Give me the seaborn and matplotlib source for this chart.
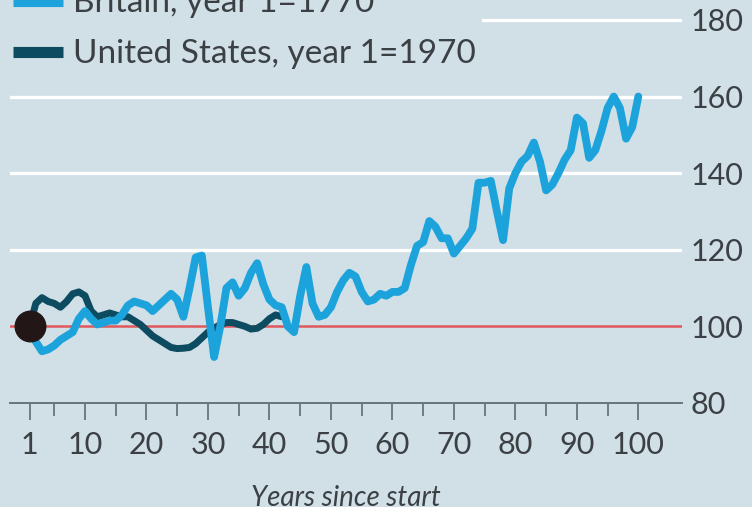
import matplotlib
matplotlib.use("Agg")
import matplotlib.pyplot as plt
import pandas as pd
import seaborn as sns

# -----------------------------
# Data
# -----------------------------
britain_years = list(range(1, 101))
britain_index = [
    100, 96, 93.5, 94, 95, 96.5, 97.5, 98.5, 102, 104,
    102, 100.5, 101, 101.5, 101.5, 103, 105.5, 106.5, 106, 105.5,
    104, 105.5, 107, 108.5, 107, 102.5, 110, 118, 118.5, 105,
    92, 100, 110, 111.5, 108, 110, 114, 116.5, 111, 107,
    105.5, 105, 100, 98.5, 108, 115.5, 106, 102.5, 103, 105,
    109, 112, 114, 113, 109, 106.5, 107, 108.5, 108, 109,
    109, 110, 116, 121, 122, 127.5, 126, 123, 123, 119,
    121, 123, 125.5, 137.5, 137.5, 138, 130, 122.5, 136, 140,
    143, 144.5, 148, 143, 135.5, 137, 140, 143.5, 146, 154.5,
    153, 144, 146, 151, 157, 160, 157, 149, 152, 160,
]

us_years = list(range(1, 43))
us_index = [
    100, 106, 107.5, 106.5, 106, 105, 106.5, 108.5, 109, 108,
    104, 102.5, 103, 103.5, 103, 102.5, 102.5, 101.5, 100.5, 99,
    97.5, 96.5, 95.5, 94.5, 94.2, 94.3, 94.5, 95.5, 97, 98.5,
    99.5, 100.5, 101, 101, 100.5, 100, 99.3, 99.5, 100.5, 102,
    103, 102.5,
]

x_tick_labels = [1, 10, 20, 30, 40, 50, 60, 70, 80, 90, 100]
y_ticks = [80, 100, 120, 140, 160, 180]

britain_label = "Britain, year 1=1770"
us_label = "United States, year 1=1970"

# -----------------------------
# Style
# -----------------------------
BG = "#d1dfe7"
LIGHT = "#1ca3db"
DARK = "#0d4b61"
RED = "#e0585c"
TEXT = "#3b4045"
AXIS = "#68747c"

sns.set_theme(style="white")
plt.rcParams["font.family"] = ["Lato", "DejaVu Sans"]

britain = pd.DataFrame({"year": britain_years, "index": britain_index})
us = pd.DataFrame({"year": us_years, "index": us_index})

fig = plt.figure(figsize=(7.52, 5.07), dpi=100, facecolor=BG)
ax = fig.add_axes([10 / 752, 1 - 403 / 507, 672 / 752, 403 / 507])
ax.set_facecolor(BG)

# gridlines and reference line
for v in y_ticks[2:]:
    ax.axhline(v, color="white", lw=2.4, zorder=1)
ax.axhline(100, color=RED, lw=1.8, zorder=2)

sns.lineplot(data=us, x="year", y="index", ax=ax, color=DARK, lw=5.0,
             label=us_label, zorder=3, solid_joinstyle="round")
sns.lineplot(data=britain, x="year", y="index", ax=ax, color=LIGHT, lw=5.6,
             label=britain_label, zorder=4, solid_joinstyle="round")
ax.plot([britain_years[0]], [britain_index[0]], "o", color="#231617",
        ms=22, zorder=5, clip_on=False)

ax.set_xlim(-2.2, 107.1)
ax.set_ylim(80, 185.2)

# axes
for s in ["top", "left", "right"]:
    ax.spines[s].set_visible(False)
ax.spines["bottom"].set_color(AXIS)
ax.spines["bottom"].set_linewidth(1.4)

ax.set_xticks(x_tick_labels)
ax.set_xticklabels([str(t) for t in x_tick_labels])
ax.set_xticks([5, 15, 25, 35, 45, 55, 65, 75, 85, 95], minor=True)
ax.tick_params(axis="x", which="major", direction="out", length=12, width=1.3,
               color=AXIS, labelsize=22, labelcolor=TEXT, pad=8, bottom=True)
ax.tick_params(axis="x", which="minor", direction="out", length=9, width=1.3,
               color=AXIS, bottom=True)

ax.yaxis.tick_right()
ax.set_yticks(y_ticks)
ax.tick_params(axis="y", length=0, labelsize=22, labelcolor=TEXT, pad=6)

ax.set_xlabel("Years since start", fontsize=20, style="italic", color=TEXT,
              labelpad=19)
ax.set_ylabel("")

# legend, partly cut off at the top as in the original
handles, labels = ax.get_legend_handles_labels()
ax.get_legend().remove()
order = [labels.index(britain_label), labels.index(us_label)]
leg = fig.legend([handles[i] for i in order], [labels[i] for i in order],
                 loc="lower left", bbox_to_anchor=(6 / 752, 1 - 76 / 507),
                 frameon=True, facecolor=BG, edgecolor="none", framealpha=1,
                 fontsize=24, handlelength=1.5, handletextpad=0.3,
                 labelspacing=0.63, borderpad=0.2, borderaxespad=0)
for line in leg.get_lines():
    line.set_linewidth(8)
    line.set_solid_capstyle("butt")
for t in leg.get_texts():
    t.set_color(TEXT)
leg.set_zorder(10)

fig.savefig("out.png", dpi=100, facecolor=BG)
